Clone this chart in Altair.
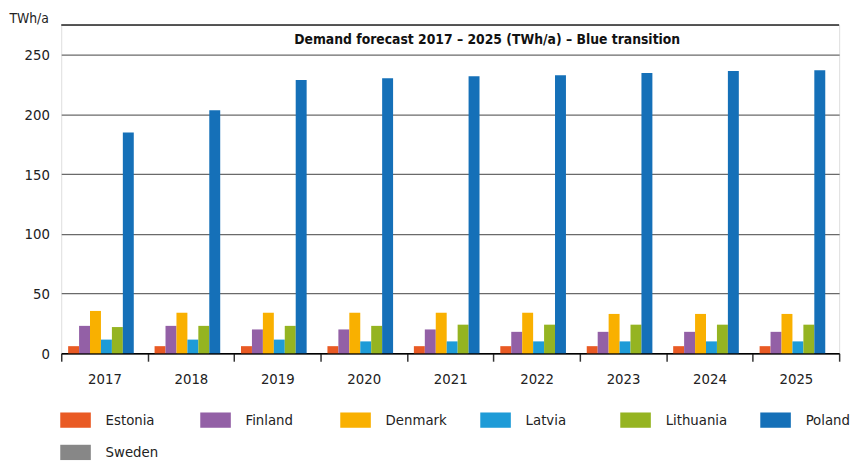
import altair as alt
import pandas as pd

years = ["2017", "2018", "2019", "2020", "2021", "2022", "2023", "2024", "2025"]
countries = ["Estonia", "Finland", "Denmark", "Latvia", "Lithuania", "Poland", "Sweden"]
colors = ["#E95A24", "#9360A6", "#F9B000", "#1E9BD7", "#95B421", "#1570B8", "#878787"]

estonia = [6, 6, 6, 6, 6, 6, 6, 6, 6]
finland = [23, 23, 20, 20, 20, 18, 18, 18, 18]
denmark = [35.5, 34, 34, 34, 34, 34, 33, 33, 33]
latvia = [11.5, 11.5, 11.5, 10, 10, 10, 10, 10, 10]
lithuania = [22, 23, 23, 23, 24, 24, 24, 24, 24]
poland = [185, 203.5, 229, 230.5, 232, 233, 234.7, 236.4, 237.2]
sweden = [0, 0, 0, 0, 0, 0, 0, 0, 0]

series = [estonia, finland, denmark, latvia, lithuania, poland, sweden]
title_text = "Demand forecast 2017 – 2025 (TWh/a) – Blue transition"
y_ticks = [0, 50, 100, 150, 200, 250]
y_max = 275

rows = []
for c, vals in zip(countries, series):
    for yr, v in zip(years, vals):
        rows.append({"year": yr, "country": c, "value": v})
df = pd.DataFrame(rows)

FONT = "DejaVu Sans Condensed, Roboto, sans-serif"
W, H = 789, 333

bars = alt.Chart(df).mark_bar(stroke=None).encode(
    x=alt.X("year:N", sort=years, title=None,
            scale=alt.Scale(paddingInner=0, paddingOuter=0),
            axis=alt.Axis(tickBand="extent", labelAngle=0, labelFontSize=15,
                          labelColor="#222", labelPadding=11, domainColor="#000",
                          domainWidth=1.5, tickColor="#333", tickSize=8,
                          tickWidth=1.5, grid=False)),
    xOffset=alt.XOffset("country:N", sort=countries,
                        scale=alt.Scale(paddingInner=0, paddingOuter=0.45, align=0.7)),
    y=alt.Y("value:Q", title="TWh/a",
            scale=alt.Scale(domain=[0, y_max], nice=False, zero=True),
            axis=alt.Axis(values=y_ticks, labelFontSize=15, labelColor="#222",
                          labelPadding=12, domain=False, ticks=False,
                          gridColor="#6a6a6a", gridWidth=1.3,
                          titleAngle=0, titleAlign="right", titleBaseline="middle",
                          titleX=-13, titleY=-7, titleFontSize=14,
                          titleFontWeight="normal", titleColor="#222")),
    color=alt.Color("country:N", sort=countries,
                    scale=alt.Scale(domain=countries, range=colors),
                    legend=alt.Legend(title=None, orient="none", legendX=-1, legendY=385,
                                      direction="horizontal", columns=6,
                                      symbolType="M-1,-0.5H1V0.5H-1Z", symbolSize=961,
                                      symbolStrokeWidth=0, symbolOpacity=1,
                                      labelFontSize=15, labelColor="#222",
                                      labelOffset=15, columnPadding=33, rowPadding=9,
                                      gridAlign="all", padding=0)),
)

top_line = alt.Chart(pd.DataFrame({"v": [y_max]})).mark_rule(
    color="#222", strokeWidth=1.5).encode(y="v:Q")

title = alt.Chart(pd.DataFrame({"t": [title_text]})).mark_text(
    font=FONT, fontSize=14, fontWeight="bold", color="#111", baseline="middle"
).encode(text="t:N", x=alt.value(432), y=alt.value(15))

chart = alt.layer(bars, top_line, title).properties(
    width=W, height=H, padding={"left": 0, "right": 0, "top": 0, "bottom": 0}
).configure_view(stroke=None).configure(font=FONT)

chart.save("out.html", embed_options={"renderer": "svg", "actions": False})
